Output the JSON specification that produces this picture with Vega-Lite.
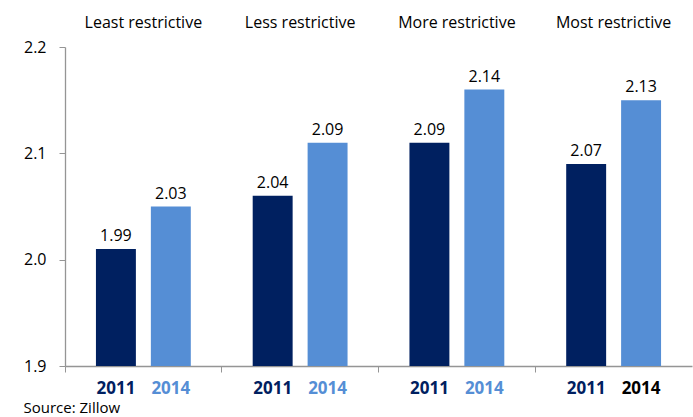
{
  "$schema": "https://vega.github.io/schema/vega-lite/v6.json",
  "width": 627,
  "height": 319,
  "autosize": "none",
  "padding": {"left": 65, "top": 47, "right": 1, "bottom": 51},
  "config": {"font": "Open Sans", "view": {"stroke": null}},
  "title": {"text": "Source: Zillow", "orient": "bottom", "anchor": "start", "frame": "bounds", "fontSize": 15, "fontWeight": "normal", "color": "#000000", "font": "Open Sans", "offset": 4},
  "data": {"values": [
    {"group": "Least restrictive", "year": "2011", "value": 2.01, "label": "1.99"},
    {"group": "Least restrictive", "year": "2014", "value": 2.05, "label": "2.03"},
    {"group": "Less restrictive", "year": "2011", "value": 2.06, "label": "2.04"},
    {"group": "Less restrictive", "year": "2014", "value": 2.11, "label": "2.09"},
    {"group": "More restrictive", "year": "2011", "value": 2.11, "label": "2.09"},
    {"group": "More restrictive", "year": "2014", "value": 2.16, "label": "2.14"},
    {"group": "Most restrictive", "year": "2011", "value": 2.09, "label": "2.07"},
    {"group": "Most restrictive", "year": "2014", "value": 2.15, "label": "2.13"}
  ]},
  "resolve": {"axis": {"x": "independent"}},
  "layer": [
    {
      "mark": {"type": "bar"},
      "encoding": {
        "x": {"field": "group", "type": "nominal", "sort": null, "scale": {"paddingInner": 0, "paddingOuter": 0},
          "axis": {"orient": "bottom", "labels": false, "title": null, "bandPosition": 0, "tickSize": 6, "domainColor": "#959595", "tickColor": "#959595", "domainWidth": 1.3}},
        "xOffset": {"field": "year", "type": "nominal", "scale": {"paddingInner": 0.2727, "paddingOuter": 0.5636}},
        "y": {"field": "value", "type": "quantitative", "scale": {"domain": [1.9, 2.2], "nice": false, "zero": false},
          "axis": {"values": [1.9, 2.0, 2.1, 2.2], "format": ".1f", "title": null, "grid": false, "tickSize": 6, "labelPadding": 13, "labelFontSize": 16, "labelColor": "#000000", "domainColor": "#959595", "tickColor": "#959595", "domainWidth": 1.3}},
        "y2": {"datum": 1.9},
        "color": {"field": "year", "type": "nominal", "scale": {"domain": ["2011", "2014"], "range": ["#002060", "#558ed5"]}, "legend": null}
      }
    },
    {
      "mark": {"type": "text", "baseline": "alphabetic", "dy": -8, "fontSize": 16, "color": "#000000"},
      "encoding": {
        "x": {"field": "group", "type": "nominal", "sort": null,
          "axis": {"orient": "top", "title": null, "domain": false, "ticks": false, "tickSize": 0, "labelPadding": 20, "labelBaseline": "alphabetic", "labelFontSize": 16, "labelColor": "#000000", "labelAngle": 0}},
        "xOffset": {"field": "year", "type": "nominal"},
        "y": {"field": "value", "type": "quantitative", "scale": {"domain": [1.9, 2.2], "nice": false, "zero": false},
          "axis": {"values": [1.9, 2.0, 2.1, 2.2], "format": ".1f", "title": null, "grid": false, "tickSize": 6, "labelPadding": 13, "labelFontSize": 16, "labelColor": "#000000", "domainColor": "#959595", "tickColor": "#959595", "domainWidth": 1.3}},
        "text": {"field": "label"}
      }
    },
    {
      "mark": {"type": "text", "baseline": "alphabetic", "dy": 28, "fontSize": 17, "fontWeight": "bold"},
      "encoding": {
        "x": {"field": "group", "type": "nominal", "sort": null, "axis": null},
        "xOffset": {"field": "year", "type": "nominal"},
        "y": {"datum": 1.9, "type": "quantitative", "scale": {"domain": [1.9, 2.2], "nice": false, "zero": false},
          "axis": {"values": [1.9, 2.0, 2.1, 2.2], "format": ".1f", "title": null, "grid": false, "tickSize": 6, "labelPadding": 13, "labelFontSize": 16, "labelColor": "#000000", "domainColor": "#959595", "tickColor": "#959595", "domainWidth": 1.3}},
        "text": {"field": "year"},
        "color": {"condition": {"test": "datum.group === 'Most restrictive' && datum.year === '2014'", "value": "#000000"}, "field": "year", "type": "nominal", "legend": null}
      }
    }
  ]
}
